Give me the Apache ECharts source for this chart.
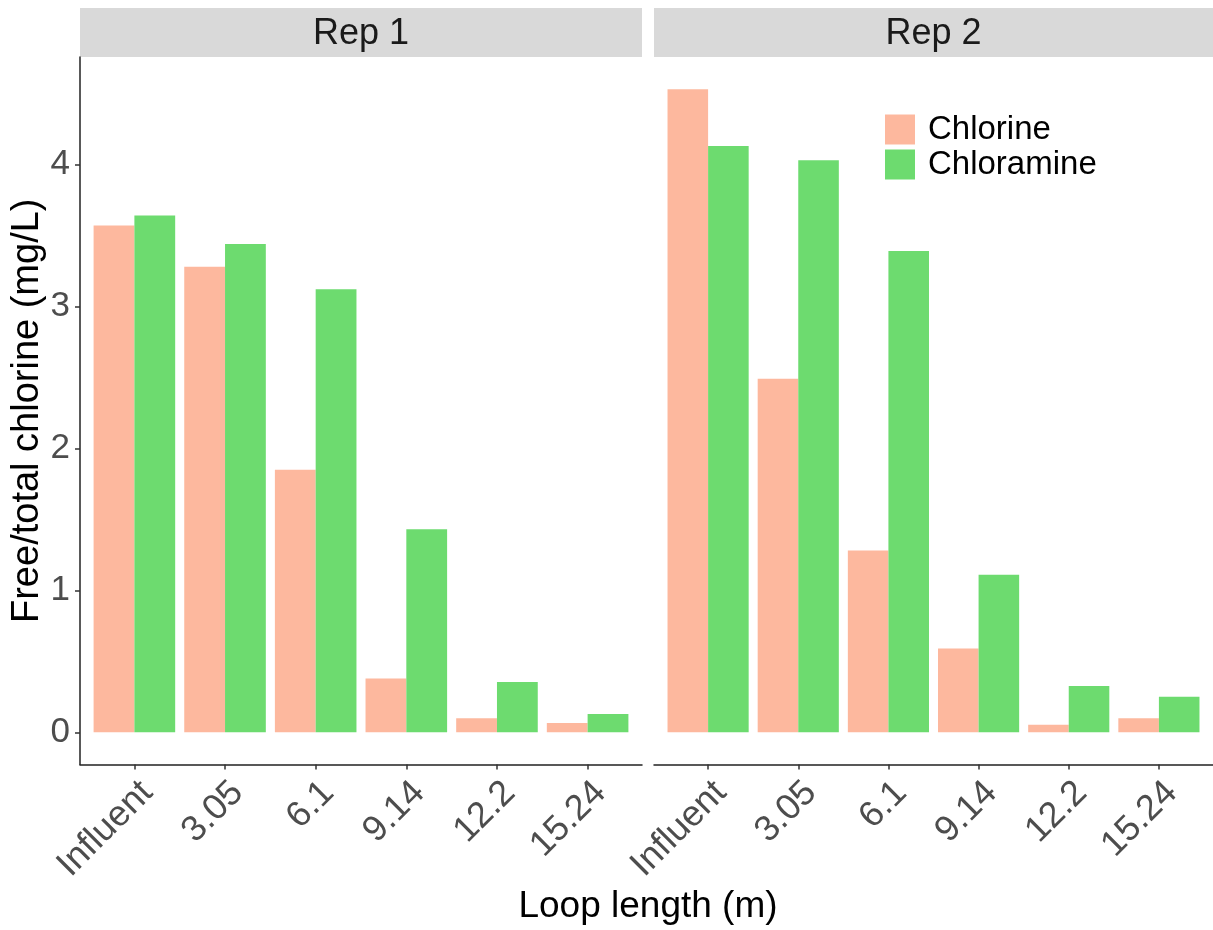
<!DOCTYPE html>
<html><head><meta charset="utf-8">
<script src="https://cdn.jsdelivr.net/npm/echarts@6/dist/echarts.min.js"></script>
<style>html,body{margin:0;padding:0;background:#fff}#c{width:1213px;height:930px}</style>
</head><body><div id="c"></div>
<script>
const categories = ['Influent', '3.05', '6.1', '9.14', '12.2', '15.24'];
const panels = ['Rep 1', 'Rep 2'];
const chlorineRep1 = [3.57, 3.28, 1.85, 0.38, 0.10, 0.066];
const chloramineRep1 = [3.64, 3.44, 3.12, 1.43, 0.355, 0.13];
const chlorineRep2 = [4.53, 2.49, 1.28, 0.59, 0.054, 0.10];
const chloramineRep2 = [4.13, 4.03, 3.39, 1.11, 0.327, 0.25];
const yTicks = [0, 1, 2, 3, 4];
const seriesNames = ['Chlorine', 'Chloramine'];

const COLORS = ['#FDB89E', '#6DDB6F'];
const FONT = 'Liberation Sans, Arial, sans-serif';
const xIdx = categories.map((c, i) => i);
const toPairs = arr => arr.map((v, i) => [i, v]);

const grids = [
  {left: 80, top: 57, width: 562, height: 707.5},
  {left: 654, top: 57, width: 562, height: 707.5}
];
const yMin = -0.2265, yMax = 4.7565;

const xAxes = grids.map((g, k) => ({
  type: 'value', gridIndex: k, min: -0.6, max: 5.6,
  axisLine: {show: true, onZero: false, lineStyle: {color: '#222', width: 1.5}},
  axisTick: {show: true, length: 5, customValues: xIdx, lineStyle: {color: '#333', width: 1.5}},
  axisLabel: {customValues: xIdx, rotate: 45, margin: 10, verticalAlign: 'top',
    formatter: v => categories[Math.round(v)] ?? '',
    color: '#4D4D4D', fontSize: 36, fontFamily: FONT},
  splitLine: {show: false}
}));
const yAxes = grids.map((g, k) => ({
  type: 'value', gridIndex: k, min: yMin, max: yMax,
  name: k === 0 ? 'Free/total chlorine (mg/L)' : '',
  nameLocation: 'middle', nameGap: 30,
  nameTextStyle: {color: '#000', fontSize: 38, fontFamily: FONT},
  axisLine: {show: k === 0, onZero: false, lineStyle: {color: '#222', width: 1.5}},
  axisTick: {show: k === 0, length: 5, customValues: yTicks, lineStyle: {color: '#333', width: 1.5}},
  axisLabel: {show: k === 0, customValues: yTicks, margin: 10, color: '#4D4D4D', fontSize: 35, fontFamily: FONT},
  splitLine: {show: false}
}));

const data = [[chlorineRep1, chloramineRep1], [chlorineRep2, chloramineRep2]];
const series = [];
data.forEach((pair, k) => {
  pair.forEach((arr, s) => {
    series.push({
      type: 'bar', name: seriesNames[s], xAxisIndex: k, yAxisIndex: k,
      data: toPairs(arr), barGap: '0%', barCategoryGap: '10%',
      itemStyle: {color: COLORS[s]}, emphasis: {disabled: true}
    });
  });
});

const graphics = [];
grids.forEach((g, k) => {
  graphics.push({type: 'rect', shape: {x: g.left, y: 8, width: g.width, height: 49},
    style: {fill: '#D9D9D9'}, silent: true});
  graphics.push({type: 'text', x: g.left + g.width / 2 - (k === 1 ? 1.5 : 0), y: 34,
    style: {text: panels[k], fill: '#1A1A1A', font: '36px ' + FONT, textAlign: 'center', textVerticalAlign: 'middle'}, silent: true});
});
graphics.push({type: 'text', x: 648, y: 907,
  style: {text: 'Loop length (m)', fill: '#000', font: '37px ' + FONT, textAlign: 'center', textVerticalAlign: 'middle'}, silent: true});

const chart = echarts.init(document.getElementById('c'), null, {renderer: 'canvas'});
chart.setOption({
  animation: false,
  backgroundColor: '#fff',
  grid: grids,
  xAxis: xAxes,
  yAxis: yAxes,
  series: series,
  legend: {
    data: seriesNames, orient: 'vertical', left: 885, top: 113, padding: 0,
    itemWidth: 30, itemHeight: 30, itemGap: 2, icon: 'rect',
    textStyle: {fontSize: 33, color: '#000', fontFamily: FONT, padding: [0, 0, 0, 8]},
    selectedMode: false
  },
  graphic: graphics
});
</script></body></html>
